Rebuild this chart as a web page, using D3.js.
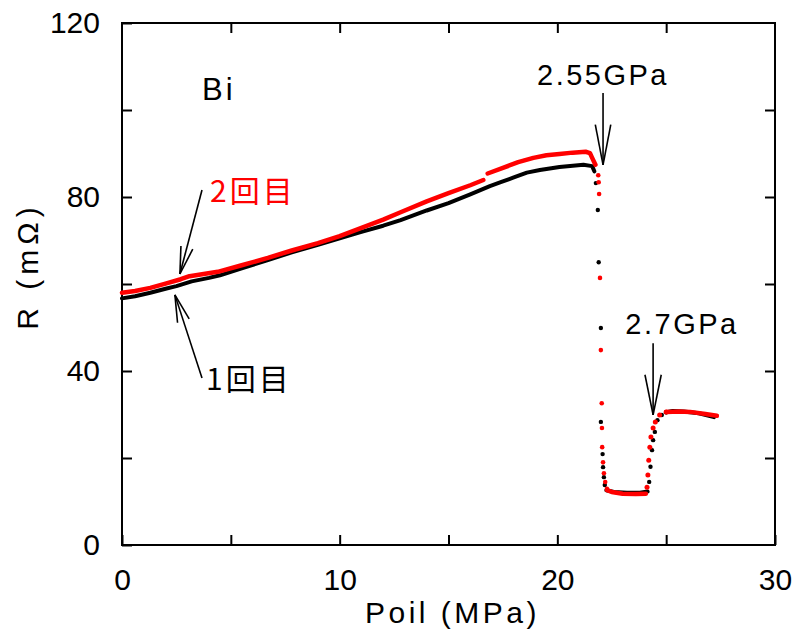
<!DOCTYPE html>
<html>
<head>
<meta charset="utf-8">
<script src="https://cdn.jsdelivr.net/npm/d3@7/dist/d3.min.js"></script>
<style>
  html, body { margin: 0; padding: 0; background: #fff; }
  svg { display: block; }
  text { font-family: "Liberation Sans", Arial, Helvetica, sans-serif; }
</style>
</head>
<body>
<svg id="chart" width="797" height="633"></svg>
<script>
// Resistance of Bi vs. oil pressure, two pressure runs.
const xTickValues = [0, 5, 10, 15, 20, 25, 30];
const xTickLabels = ["0", "", "10", "", "20", "", "30"];
const yTickValues = [0, 20, 40, 60, 80, 100, 120];
const yTickLabels = ["0", "", "40", "", "80", "", "120"];

// Run 1 (1回目): densely sampled section before the transition  [P (MPa), R (mΩ)]
const run1Dense = [
  [0.0, 56.7], [0.6, 57.2], [1.3, 58.0], [2.0, 58.9], [2.5, 59.5], [3.2, 60.6], [4.0, 61.4],
  [4.5, 62.0], [5.5, 63.6], [6.7, 65.5], [7.8, 67.3], [9.0, 69.0], [10.0, 70.5], [11.0, 72.0],
  [12.0, 73.4], [12.8, 74.7], [14.0, 76.9], [15.0, 78.6], [16.0, 80.6], [16.9, 82.5],
  [17.4, 83.4], [18.0, 84.5], [18.6, 85.6], [19.2, 86.2], [20.1, 86.9], [21.2, 87.4],
  [21.6, 87.1], [21.7, 85.9]
];
// Run 1: isolated readings during the drop
const run1Drop = [
  [21.77, 83.2], [21.86, 77.0], [21.90, 65.0], [22.00, 49.9], [22.00, 28.3],
  [22.08, 20.9], [22.10, 17.9], [22.14, 15.6], [22.18, 13.8]
];
// Run 1: low-resistance plateau
const run1Low = [
  [22.25, 12.6], [22.6, 12.2], [23.2, 12.0], [23.8, 12.0], [24.15, 12.3]
];
// Run 1: recovery readings
const run1Rise = [
  [24.22, 14.5], [24.28, 18.0], [24.35, 21.8], [24.40, 24.1], [24.48, 26.0],
  [24.60, 28.7], [24.80, 29.9], [25.0, 30.5]
];
// Run 1: high plateau after recovery
const run1High = [
  [25.0, 30.5], [25.3, 30.8], [25.8, 30.7], [26.5, 30.3], [27.2, 29.4]
];

// Run 2 (2回目): dense section, first part (up to the small step)
const run2DenseA = [
  [0.0, 58.0], [0.6, 58.4], [1.3, 59.1], [2.0, 60.1], [2.7, 61.1], [3.1, 61.8],
  [4.4, 62.8], [5.5, 64.3], [6.7, 66.0], [7.8, 67.7], [9.0, 69.4], [10.0, 71.0],
  [11.0, 72.9], [12.0, 74.8], [12.8, 76.5], [14.0, 79.0], [15.0, 80.9], [16.0, 82.7],
  [16.6, 83.9]
];
// Run 2: dense section, second part
const run2DenseB = [
  [16.8, 85.4], [17.5, 86.7], [18.2, 88.0], [18.9, 89.0], [19.5, 89.6], [20.1, 89.9],
  [20.7, 90.2], [21.3, 90.4], [21.5, 90.1], [21.6, 89.0], [21.75, 87.4]
];
// Run 2: isolated readings during the drop
const run2Drop = [
  [21.88, 85.0], [21.90, 83.4], [21.92, 80.7], [21.96, 61.4], [22.00, 44.8],
  [22.04, 32.6], [22.05, 26.9], [22.06, 22.5], [22.10, 19.0], [22.14, 16.5],
  [22.20, 14.5], [22.28, 12.9]
];
// Run 2: low-resistance plateau
const run2Low = [
  [22.28, 12.6], [22.5, 12.2], [23.0, 11.8], [23.6, 11.7], [24.07, 11.8]
];
// Run 2: recovery readings
const run2Rise = [
  [24.12, 13.3], [24.16, 16.1], [24.20, 19.5], [24.25, 22.5], [24.30, 24.8],
  [24.40, 26.9], [24.50, 28.3], [24.70, 29.9], [25.0, 30.6]
];
// Run 2: high plateau after recovery
const run2High = [
  [25.0, 30.6], [25.6, 30.7], [26.1, 30.6], [26.8, 30.1], [27.33, 29.7]
];

const svg = d3.select("#chart");
const margin = { left: 122, right: 22, top: 23, bottom: 88 };
const W = 797, H = 633;

const x = d3.scaleLinear().domain([0, 30]).range([margin.left, W - margin.right]);
const y = d3.scaleLinear().domain([0, 120]).range([H - margin.bottom, margin.top]);

const RED = "#ff0000", BLACK = "#000000";
const tickLen = 10;

// Frame
svg.append("rect")
  .attr("x", x(0)).attr("y", y(120))
  .attr("width", x(30) - x(0)).attr("height", y(0) - y(120))
  .attr("fill", "none").attr("stroke", "#000").attr("stroke-width", 2);

// Axes with inward ticks on all four sides
function styleAxis(g) {
  g.select(".domain").remove();
  g.selectAll(".tick line").attr("stroke", "#000").attr("stroke-width", 2);
  g.selectAll("text").attr("fill", "#000").attr("font-size", 30)
    .style("font-family", "'Liberation Sans', Arial, sans-serif");
}
svg.append("g").attr("transform", `translate(0,${y(0)})`)
  .call(d3.axisBottom(x).tickValues(xTickValues)
    .tickFormat((d, i) => xTickLabels[i]).tickSizeInner(-tickLen).tickSizeOuter(0).tickPadding(24))
  .call(styleAxis);
svg.append("g").attr("transform", `translate(0,${y(120)})`)
  .call(d3.axisTop(x).tickValues(xTickValues.slice(1, -1)).tickFormat("").tickSizeInner(-tickLen).tickSizeOuter(0))
  .call(styleAxis);
svg.append("g").attr("transform", `translate(${x(0)},0)`)
  .call(d3.axisLeft(y).tickValues(yTickValues)
    .tickFormat((d, i) => yTickLabels[i]).tickSizeInner(-tickLen).tickSizeOuter(0).tickPadding(22))
  .call(styleAxis);
svg.append("g").attr("transform", `translate(${x(30)},0)`)
  .call(d3.axisRight(y).tickValues(yTickValues.slice(1, -1)).tickFormat("").tickSizeInner(-tickLen).tickSizeOuter(0))
  .call(styleAxis);

// Axis titles
svg.append("text")
  .attr("x", (x(0) + x(30)) / 2 + 4).attr("y", 623)
  .attr("text-anchor", "middle").attr("font-size", 30).attr("letter-spacing", 3.5)
  .text("Poil (MPa)");
svg.append("text")
  .attr("transform", `translate(38,${(y(0) + y(120)) / 2 - 18}) rotate(-90)`)
  .attr("text-anchor", "middle").attr("font-size", 30).attr("letter-spacing", 5)
  .text("R (mΩ)");

// Data
const line = d3.line().x(d => x(d[0])).y(d => y(d[1])).curve(d3.curveLinear);
const plot = svg.append("g");

function drawLine(data, color, width) {
  plot.append("path").datum(data)
    .attr("d", line).attr("fill", "none").attr("stroke", color)
    .attr("stroke-width", width).attr("stroke-linejoin", "round").attr("stroke-linecap", "round");
}
function drawDots(data, color, r) {
  plot.append("g").selectAll("circle").data(data).join("circle")
    .attr("cx", d => x(d[0])).attr("cy", d => y(d[1])).attr("r", r).attr("fill", color);
}

drawLine(run1Dense, BLACK, 4);
drawLine(run1Low, BLACK, 4);
drawLine(run1High, BLACK, 4);
drawDots(run1Drop, BLACK, 2.2);
drawDots(run1Rise, BLACK, 2.2);

drawLine(run2DenseA, RED, 4.5);
drawLine(run2DenseB, RED, 4.5);
drawLine(run2Low, RED, 4.5);
drawLine(run2High, RED, 4.5);
drawDots(run2Drop, RED, 2.3);
drawDots(run2Rise, RED, 2.5);

// Annotations
function arrow(x1, y1, x2, y2, headLen, halfAngle) {
  const g = svg.append("g").attr("stroke", "#000").attr("stroke-width", 1.6).attr("fill", "none");
  g.append("line").attr("x1", x1).attr("y1", y1).attr("x2", x2).attr("y2", y2);
  const a = Math.atan2(y1 - y2, x1 - x2);
  [a - halfAngle, a + halfAngle].forEach(t => {
    g.append("line").attr("x1", x2).attr("y1", y2)
      .attr("x2", x2 + headLen * Math.cos(t)).attr("y2", y2 + headLen * Math.sin(t));
  });
}

svg.append("text").attr("x", 202).attr("y", 100).attr("font-size", 31).attr("letter-spacing", 3)
  .text("Bi");

svg.append("text").attr("x", 603).attr("y", 85).attr("text-anchor", "middle")
  .attr("font-size", 29).attr("letter-spacing", 2.5).text("2.55GPa");
arrow(x(22.1), y(103.9), x(22.1), y(87.4), 41, 0.19);

svg.append("text").attr("x", 682).attr("y", 334).attr("text-anchor", "middle")
  .attr("font-size", 29).attr("letter-spacing", 2.5).text("2.7GPa");
arrow(x(24.4), y(46.4), x(24.4), y(29.9), 41, 0.2);

svg.append("text").attr("x", 210).attr("y", 202).attr("font-size", 30).attr("letter-spacing", 3)
  .attr("fill", RED).style("font-family", "'Noto Sans CJK JP', sans-serif").text("2回目");
arrow(202, 190, x(2.66), y(62.3), 28, 0.22);

svg.append("text").attr("x", 206).attr("y", 390).attr("font-size", 30).attr("letter-spacing", 3)
  .attr("fill", BLACK).style("font-family", "'Noto Sans CJK JP', sans-serif").text("1回目");
arrow(202, 378, x(2.43), y(57.5), 28, 0.22);
</script>
</body>
</html>
